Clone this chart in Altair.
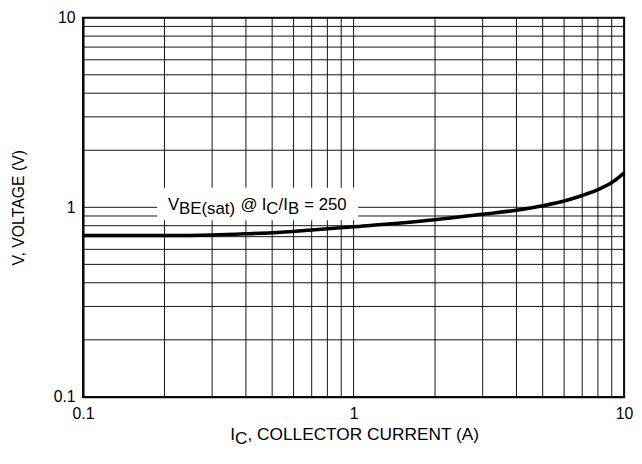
import altair as alt
import pandas as pd

# ---- data ----
collector_current_a = [0.1, 0.2, 0.3, 0.4, 0.5, 0.7, 1, 2, 3, 4, 5, 6, 7, 8, 9, 10]
vbe_sat_v = [0.71, 0.71, 0.715, 0.725, 0.735, 0.76, 0.79, 0.86, 0.92, 0.965,
             1.02, 1.08, 1.155, 1.24, 1.35, 1.52]
grid_values = [0.1, 0.2, 0.3, 0.4, 0.5, 0.6, 0.7, 0.8, 0.9,
               1, 2, 3, 4, 5, 6, 7, 8, 9, 10]
decade_ticks = [0.1, 1, 10]

FONT = "Liberation Sans"
W, H = 548, 384

curve_df = pd.DataFrame({"I": collector_current_a, "V": vbe_sat_v})
grid_df = pd.DataFrame({"g": grid_values})
one = pd.DataFrame({"a": [0]})

xscale = alt.Scale(type="log", domain=[0.1, 10], nice=False)
yscale = alt.Scale(type="log", domain=[0.1, 10], nice=False)

xaxis = alt.Axis(values=decade_ticks, format="~g", ticks=False, grid=False,
                 domainColor="black", domainWidth=2, labelFont=FONT,
                 labelFontSize=16, labelColor="black", labelPadding=9,
                 labelFlush=False, labelOverlap=False, title=None)
yaxis = alt.Axis(values=decade_ticks, format="~g", ticks=False, grid=False,
                 domainColor="black", domainWidth=2, labelFont=FONT,
                 labelFontSize=16, labelColor="black", labelPadding=8,
                 labelFlush=False, labelOverlap=False,
                 title="V, VOLTAGE (V)", titleFont=FONT, titleFontSize=16,
                 titleFontWeight="normal", titleColor="black",
                 titleX=-65, titleY=H / 2, titleAngle=-90,
                 titleAlign="center", titleBaseline="middle")

vgrid = alt.Chart(grid_df).mark_rule(color="#111", strokeWidth=1).encode(
    x=alt.X("g:Q", scale=xscale, axis=xaxis))
hgrid = alt.Chart(grid_df).mark_rule(color="#111", strokeWidth=1).encode(
    y=alt.Y("g:Q", scale=yscale, axis=yaxis))

# white box behind the curve label
box = alt.Chart(one).mark_rect(color="white").encode(
    x=alt.X(datum=0.188, scale=xscale, axis=xaxis),
    x2=alt.X2(datum=1.04),
    y=alt.Y(datum=1.27, scale=yscale, axis=yaxis),
    y2=alt.Y2(datum=0.855))

curve = alt.Chart(curve_df).mark_line(color="black", strokeWidth=3.6,
                                      interpolate="monotone").encode(
    x=alt.X("I:Q", scale=xscale, axis=xaxis),
    y=alt.Y("V:Q", scale=yscale, axis=yaxis))

LABEL_I, LABEL_V = 0.206, 0.965


def lab(txt, dx, dy=0, size=17):
    return alt.Chart(one).mark_text(
        text=txt, align="left", baseline="alphabetic", dx=dx, dy=dy,
        font=FONT, fontSize=size, color="black").encode(
        x=alt.X(datum=LABEL_I, scale=xscale, axis=xaxis),
        y=alt.Y(datum=LABEL_V, scale=yscale, axis=yaxis))


label_layers = [
    lab("V", 0),
    lab("BE(sat)", 11.3, 4),
    lab("@", 73.5),
    lab("I", 95),
    lab("C", 99.5, 4),
    lab("/I", 112),
    lab("B", 121.5, 4),
    lab("= 250", 138),
]


def ttl(txt, x, dy=0, size=17.5):
    return alt.Chart(one).mark_text(
        text=txt, align="left", baseline="alphabetic", dy=dy,
        font=FONT, fontSize=size, color="black").encode(
        x=alt.value(x), y=alt.value(428))


title_layers = [
    ttl("I", 149),
    ttl("C", 153.9, 4),
    ttl(", COLLECTOR CURRENT (A)", 166.5),
]

chart = alt.layer(vgrid, hgrid, box, curve, *label_layers, *title_layers).properties(
    width=W, height=H,
    autosize=alt.AutoSizeParams(type="none"),
    padding={"left": 76, "top": 7, "right": 10, "bottom": 57},
).configure_view(stroke="black", strokeWidth=2)

chart.save("out.html", embed_options={"renderer": "svg", "actions": False})
